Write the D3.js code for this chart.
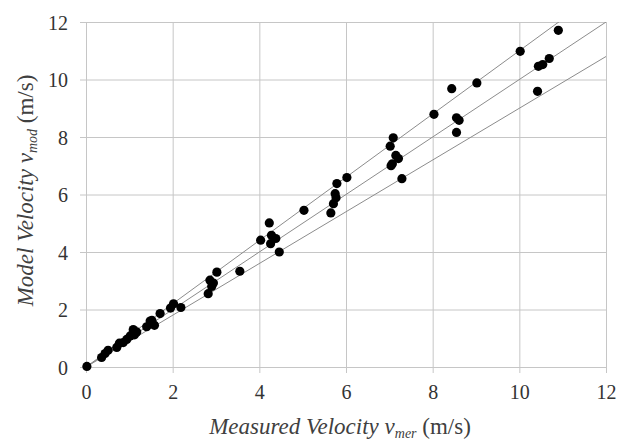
<!DOCTYPE html>
<html>
<head>
<meta charset="utf-8">
<script src="https://cdn.jsdelivr.net/npm/d3@7"></script>
<style>
  #chart, #chart text, #chart tspan { font-family: "Liberation Serif", serif !important; }
</style>
</head>
<body style="margin:0">
<svg id="chart" width="622" height="441" font-family="Liberation Serif"></svg>
<script>
// measured vs model velocity (m/s)
const measured = [
  0.02, 0.36, 0.44, 0.51, 0.71, 0.77, 0.86, 0.94, 1.02, 1.09, 1.12, 1.17,
  1.40, 1.48, 1.52, 1.58, 1.71, 1.95, 2.02, 2.19,
  2.82, 2.86, 2.90, 2.94, 3.02, 3.55,
  4.03, 4.23, 4.26, 4.28, 4.38, 4.46, 5.03,
  5.65, 5.71, 5.75, 5.77, 5.79, 6.02,
  7.02, 7.04, 7.07, 7.09, 7.15, 7.21, 7.29,
  8.03, 8.44, 8.55, 8.55, 8.61, 9.02,
  10.02, 10.42, 10.44, 10.54, 10.69, 10.90
];
const modelled = [
  0.02, 0.33, 0.47, 0.58, 0.68, 0.83, 0.85, 0.96, 1.08, 1.30, 1.12, 1.22,
  1.40, 1.60, 1.62, 1.45, 1.86, 2.05, 2.20, 2.07,
  2.55, 3.02, 2.80, 2.92, 3.30, 3.33,
  4.41, 5.01, 4.29, 4.58, 4.47, 4.00, 5.45,
  5.36, 5.68, 6.03, 5.89, 6.38, 6.59,
  7.68, 7.00, 7.07, 7.97, 7.36, 7.25, 6.55,
  8.79, 9.68, 8.67, 8.16, 8.58, 9.88,
  10.98, 9.59, 10.46, 10.52, 10.73, 11.71
];
const ratios = [1.1, 1.0, 0.9];
const ticks = [0, 2, 4, 6, 8, 10, 12];

const FONT = "Liberation Serif";
const margin = { top: 22, left: 86 };
const width = 520, height = 345;

const svg = d3.select("#chart");

const g = svg.append("g")
  .attr("transform", `translate(${margin.left},${margin.top})`);

const x = d3.scaleLinear().domain([0, 12]).range([0, width]);
const y = d3.scaleLinear().domain([0, 12]).range([height, 0]);

// grid + ticks
g.append("g")
  .attr("transform", `translate(0,${height})`)
  .call(d3.axisBottom(x).tickValues(ticks).tickSizeOuter(0).tickPadding(12))
  .attr("font-family", FONT)
  .attr("font-size", 20)
  .call(a => a.select(".domain").remove())
  .call(a => a.selectAll("line").attr("stroke", "#c6c6c6").attr("y2", -height).attr("y1", 6))
  .call(a => a.selectAll("text").attr("fill", "#333").style("font-family", FONT, "important").attr("font-size", 20).attr("dy", "0.71em"));

g.append("g")
  .call(d3.axisLeft(y).tickValues(ticks).tickSizeOuter(0).tickPadding(12))
  .attr("font-family", FONT)
  .attr("font-size", 20)
  .call(a => a.select(".domain").remove())
  .call(a => a.selectAll("line").attr("stroke", "#c6c6c6").attr("x1", -6).attr("x2", width))
  .call(a => a.selectAll("text").attr("fill", "#333").style("font-family", FONT, "important").attr("font-size", 20).attr("dy", "0.36em"));

// ratio lines
svg.append("defs").append("clipPath").attr("id", "plotclip")
  .append("rect").attr("width", width).attr("height", height);

g.append("g").attr("clip-path", "url(#plotclip)")
  .selectAll("line.ratio")
  .data(ratios)
  .join("line")
  .attr("class", "ratio")
  .attr("x1", x(0)).attr("y1", y(0))
  .attr("x2", x(12)).attr("y2", r => y(12 * r))
  .attr("stroke", "#8c8c8c")
  .attr("stroke-width", 1);

// points
const pts = measured.map((m, i) => ({ m, v: modelled[i] }));
g.selectAll("circle.dot")
  .data(pts)
  .join("circle")
  .attr("class", "dot")
  .attr("cx", d => x(d.m))
  .attr("cy", d => y(d.v))
  .attr("r", 4.6)
  .attr("fill", "#000");

// axis titles
const xt = svg.append("text")
  .attr("x", margin.left + width / 2 - 6)
  .attr("y", 434)
  .attr("text-anchor", "middle")
  .attr("fill", "#404040")
  .style("font-family", FONT, "important")
  .attr("font-size", 23);
xt.append("tspan").attr("font-style", "italic").text("Measured Velocity v");
xt.append("tspan").attr("font-style", "italic").attr("font-size", 14).attr("dy", 4).text("mer");
xt.append("tspan").attr("dy", -4).text(" (m/s)");

const yt = svg.append("text")
  .attr("transform", `translate(33,${margin.top + height / 2 - 4}) rotate(-90)`)
  .attr("text-anchor", "middle")
  .attr("fill", "#404040")
  .style("font-family", FONT, "important")
  .attr("font-size", 23);
yt.append("tspan").attr("font-style", "italic").text("Model Velocity  v");
yt.append("tspan").attr("font-style", "italic").attr("font-size", 14).attr("dy", 4).text("mod");
yt.append("tspan").attr("dy", -4).text(" (m/s)");
</script>
</body>
</html>
